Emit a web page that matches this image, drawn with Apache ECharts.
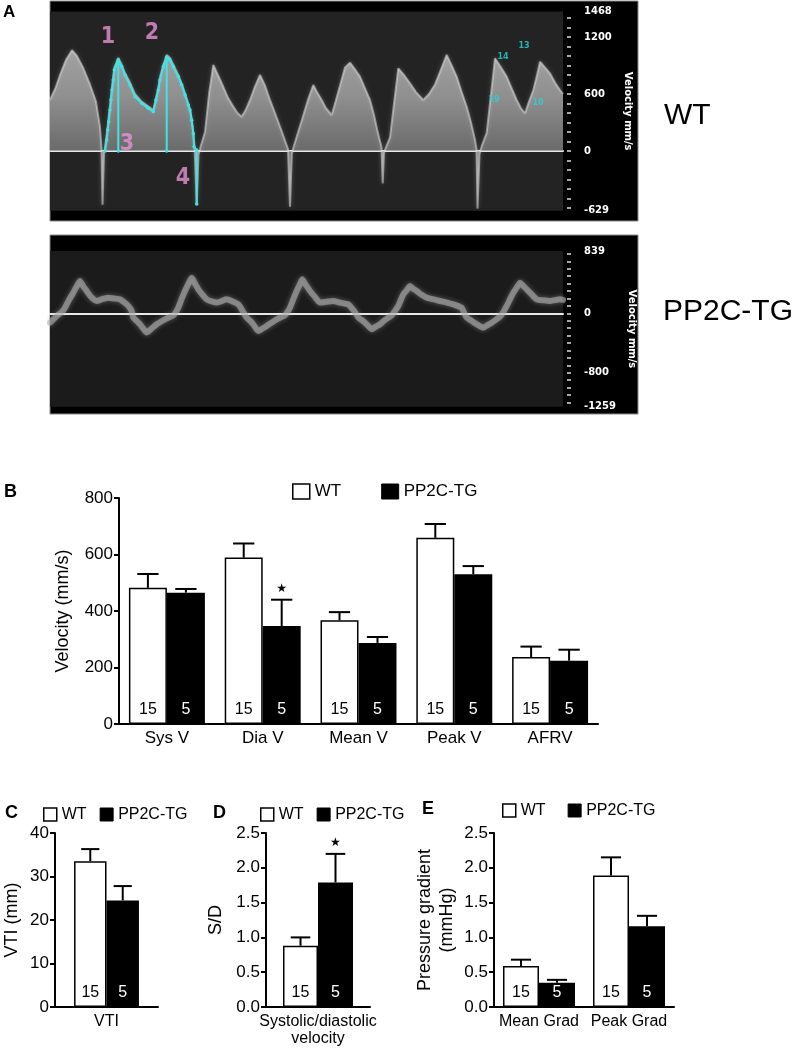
<!DOCTYPE html>
<html lang="en">
<head>
<meta charset="UTF-8">
<title>Doppler flow WT vs PP2C-TG</title>
<script src="https://cdn.jsdelivr.net/npm/echarts@6/dist/echarts.min.js"></script>
<style>
    html, body { margin: 0; padding: 0; background: #fff; }
    #main { width: 803px; height: 1048px; }
</style>
</head>
<body>
<div id="main"></div>
<script>
// ---------- panel A: doppler traces, t = position along the trace, v = velocity mm/s
var wtEnvelope = [
    [0, 540], [5, 650], [10, 800], [16, 960], [22, 1060], [27, 1000], [33, 880], [40, 700], [46, 520], [50, 250], [51.5, 20],
    [52.5, -565], [54, -30],
    [55, 40], [56.7, 180], [58.7, 360], [60, 480], [62, 680], [64.3, 880], [68.3, 980], [71.7, 910], [75, 820], [80, 720],
    [85, 600], [91.7, 520], [98.3, 470], [103.3, 430], [106, 560], [108.3, 670], [110, 780], [113.3, 910], [116.7, 1010],
    [120, 980], [123.3, 910], [128.3, 800], [131.7, 710], [135, 610], [138.3, 500], [140, 440], [141.7, 340], [143.3, 200], [144.5, 60],
    [146.7, -560], [148.5, -40],
    [151, 60], [155, 200], [159, 600], [163.3, 905], [168, 800], [173.3, 676], [178, 560], [183.3, 467], [187.5, 400], [191.7, 361],
    [196, 440], [200, 537], [205, 680], [210, 800], [215, 690], [220, 537], [225, 400], [230, 256], [235, 110], [238, 20],
    [240, -586], [241.8, -30],
    [243.5, 40], [246.7, 150], [252, 330], [258, 540], [263.3, 695], [267, 620], [271.7, 537], [276, 450], [281.7, 379], [285, 500],
    [290, 690], [295, 880], [300, 930], [305, 860], [310, 783], [315, 660], [320, 537], [324, 380], [328, 186], [331.5, 40],
    [332.7, -340], [334, -20],
    [336, 40], [340, 140], [344, 500], [348.3, 870], [354, 800], [360, 713], [366, 620], [373.3, 537], [379, 600], [385, 700],
    [391, 860], [396.7, 1011], [401.7, 900], [406.7, 783], [411.7, 620], [416.7, 467], [421, 300], [425, 116], [426.5, 20],
    [427.5, -604], [429.5, -30],
    [432, 60], [436.7, 190], [441, 600], [445, 976], [451, 880], [456.7, 783], [461.7, 660], [466.7, 537], [471, 450], [475, 397],
    [479, 520], [483.3, 642], [487, 800], [490, 940], [495, 880], [500, 818], [505, 720], [510, 642], [513, 600]
];
var wtTrace = [
    [55, 0], [56.7, 116], [57.7, 221], [58.7, 309], [60, 432], [61, 537], [62, 642], [63.3, 748], [64.3, 853], [68.3, 958],
    [71.7, 888], [75, 800], [80, 695], [85, 572], [91.7, 502], [98.3, 449], [103.3, 414], [106, 537], [108.3, 642], [110, 748],
    [113.3, 888], [116.7, 986], [120, 958], [123.3, 888], [128.3, 783], [131.7, 695], [135, 590], [138.3, 484], [140, 432],
    [141.7, 325], [143.3, 183], [144, 46], [146.7, 10], [146.7, -558]
];
var wtTraceDrops = [[68.3, 958], [116.7, 986]];
var wtMarks = [[58, 1200, '1'], [102, 1242, '2'], [77, 74, '3'], [133, -284, '4']];
var wtTags = [[474, 1105, '13'], [453, 990, '14'], [444, 537, '19'], [488, 505, '10']];
var wtTickLabels = [-629, 0, 600, 1200, 1468];

var tgBand = [
    [0, -126], [5, -58], [8.3, -18], [12, 20], [15, 76], [19, 180], [23.3, 278], [27, 370], [30, 435], [33, 370], [36.7, 300],
    [41, 220], [46.7, 166], [52, 190], [58.3, 211], [64, 200], [70, 188], [74, 150], [78.3, 99], [81.7, 31],
    [83.3, -58], [86.5, -100], [90, -148], [93.5, -210], [96.7, -260], [101.7, -205], [106.7, -148], [112.5, -100], [118.3, -58], [123.3, -27],
    [126, 20], [128.3, 76], [131.5, 190], [135, 300], [138.5, 400], [141.7, 480], [145, 400], [148.3, 323], [152.5, 250], [156.7, 188],
    [161.7, 160], [166.7, 144], [171.7, 165], [176.7, 188], [182.5, 160], [188.3, 121], [191.7, 54], [194, 0],
    [196.7, -58], [200, -100], [203.3, -148], [208.3, -238], [212.5, -205], [216.7, -170], [221.7, -125], [226.7, -81], [235, -27],
    [237.5, 20], [240, 76], [243.3, 190], [246.7, 300], [249.5, 380], [252.3, 458], [256, 380], [260, 300], [265, 220], [270, 144],
    [276.5, 155], [283.3, 166], [290, 144], [298.3, 121], [300, 99], [303.3, 45], [305.8, 0],
    [308.3, -58], [311.7, -90], [315, -126], [318.3, -170], [321.7, -215], [325.8, -180], [330, -148], [334, -100], [338.3, -58], [341.7, -27],
    [345, 30], [348.3, 99], [353.3, 256], [356.7, 310], [360, 368], [363.3, 330], [366.7, 300], [371.7, 250], [376.7, 211], [383, 190],
    [390, 166], [396.7, 145], [403.3, 121], [411.7, 76], [414, 10],
    [416.7, -58], [421, -95], [425, -135], [429, -165], [433.3, -193], [437.5, -160], [441.7, -126], [446, -85], [450, -45],
    [453.5, 20], [456.7, 99], [460, 190], [463.3, 278], [466.7, 345], [470, 413], [473.3, 370], [476.7, 323], [481.7, 255], [486.7, 188],
    [493.3, 175], [500, 166], [505, 178], [510, 188], [513, 180]
];
var tgTickLabels = [-1259, -800, 0, 839];

// ---------- panel B: velocities (mean, SEM)
var bCats = ['Sys V', 'Dia V', 'Mean V', 'Peak V', 'AFRV'];
var bWT = [482, 589, 367, 659, 237];
var bWTsem = [49, 50, 29, 49, 37];
var bTG = [465, 347, 287, 530, 224];
var bTGsem = [13, 93, 21, 29, 39];
var bStarTG = [0, 1, 0, 0, 0];

// ---------- panel C / D / E
var cCats = ['VTI'];
var cWT = [33.5], cWTsem = [2.8];
var cTG = [24.5], cTGsem = [3.3];

var dCats = ['Systolic/diastolic\nvelocity'];
var dWT = [0.88], dWTsem = [0.12];
var dTG = [1.79], dTGsem = [0.41];
var dStarTG = [1];

var eCats = ['Mean Grad', 'Peak Grad'];
var eWT = [0.59, 1.89], eWTsem = [0.09, 0.26];
var eTG = [0.35, 1.16], eTGsem = [0.04, 0.15];

var nWT = 15, nTG = 5;

var FONT = "'Liberation Sans', Arial, Helvetica, sans-serif";
var chart = echarts.init(document.getElementById('main'), null, { renderer: 'canvas' });

function errorBars(gap, side) {
    return function (params, api) {
        var i = api.value(0), m = api.value(1), s = api.value(2);
        var base = api.coord([i, m]);
        var tip = api.coord([i, m + s]);
        var band = api.size([1, 0])[0];
        var bw = band * (1 - gap) / 2;
        var cx = base[0] + side * bw / 2;
        var cap = bw * 0.28;
        var kids = [
            { type: 'line', shape: { x1: cx, y1: base[1], x2: cx, y2: tip[1] }, style: { stroke: '#000', lineWidth: 2 } },
            { type: 'line', shape: { x1: cx - cap, y1: tip[1], x2: cx + cap, y2: tip[1] }, style: { stroke: '#000', lineWidth: 2 } }
        ];
        if (api.value(3)) {
            kids.push({ type: 'text', style: { text: '\u2605', x: cx, y: tip[1] - 11, align: 'center', verticalAlign: 'middle',
                fontSize: 12, fill: '#000', fontFamily: 'DejaVu Sans' } });
        }
        return { type: 'group', children: kids };
    };
}

// bars + error bars for one panel
function barPanel(ax, wt, wtSem, tg, tgSem, starTG, gap, labelSize) {
    var stars = starTG || wt.map(function () { return 0; });
    var gapStr = Math.round(gap * 1000) / 10 + '%';
    return [
        {
            type: 'bar', name: 'WT', xAxisIndex: ax, yAxisIndex: ax, data: wt,
            barGap: '0%', barCategoryGap: gapStr,
            itemStyle: { color: '#fff', borderColor: '#000', borderWidth: 1.5 },
            label: { show: true, position: 'insideBottom', distance: 6, formatter: String(nWT), color: '#000', fontSize: labelSize, fontFamily: FONT }
        },
        {
            type: 'bar', name: 'PP2C-TG', xAxisIndex: ax, yAxisIndex: ax, data: tg,
            barGap: '0%', barCategoryGap: gapStr,
            itemStyle: { color: '#000', borderColor: '#000', borderWidth: 1.5 },
            label: { show: true, position: 'insideBottom', distance: 6, formatter: String(nTG), color: '#fff', fontSize: labelSize, fontFamily: FONT }
        },
        {
            type: 'custom', name: 'errWT' + ax, xAxisIndex: ax, yAxisIndex: ax, z: 3,
            renderItem: errorBars(gap, -1),
            data: wt.map(function (v, i) { return [i, v, wtSem[i], 0]; })
        },
        {
            type: 'custom', name: 'errTG' + ax, xAxisIndex: ax, yAxisIndex: ax, z: 3,
            renderItem: errorBars(gap, 1),
            data: tg.map(function (v, i) { return [i, v, tgSem[i], stars[i]]; })
        }
    ];
}

function doppXAxis(grid, show) {
    return {
        type: 'value', gridIndex: grid, min: 0, max: 513, show: show,
        axisLine: { show: true, onZero: true, lineStyle: { color: '#e8e8e8', width: 2 } },
        axisTick: { show: false }, axisLabel: { show: false }, splitLine: { show: false }
    };
}

// velocity scale with the labelled values of the scanner
function doppYAxis(grid, min, max, labels) {
    return {
        type: 'value', gridIndex: grid, min: min, max: max, position: 'right', offset: 5,
        axisLine: { show: false },
        axisTick: { show: false },
        axisLabel: { show: true, customValues: labels, margin: 16, color: '#fff', fontSize: 10, fontWeight: 'bold', fontFamily: 'DejaVu Sans',
            formatter: function (v) { return String(v); } },
        splitLine: { show: false },
        name: 'Velocity mm/s', nameLocation: 'middle', nameRotate: -90, nameGap: 52,
        nameTextStyle: { color: '#fff', fontSize: 10, fontWeight: 'bold', fontFamily: 'DejaVu Sans' }
    };
}

// 100 mm/s tick ruler beside the scanner scale (its grid is 1px wide, right of the trace)
function tickYAxis(grid, min, max) {
    return {
        type: 'value', gridIndex: grid, min: min, max: max, interval: 100, position: 'right',
        axisLine: { show: false },
        axisTick: { show: true, inside: false, length: 4, lineStyle: { color: '#ddd', width: 1.5 } },
        axisLabel: { show: false }, splitLine: { show: false }
    };
}

function catXAxis(grid, cats, size) {
    return {
        type: 'category', gridIndex: grid, data: cats,
        axisLine: { show: true, lineStyle: { color: '#000', width: 2 } },
        axisTick: { show: false },
        axisLabel: { interval: 0, margin: 6, color: '#000', fontSize: size, lineHeight: 17, fontFamily: FONT }
    };
}

function valYAxis(grid, max, interval, name, gap, digits) {
    return {
        type: 'value', gridIndex: grid, min: 0, max: max, interval: interval,
        axisLine: { show: true, lineStyle: { color: '#000', width: 2 } },
        axisTick: { show: true, length: 5, lineStyle: { color: '#000', width: 2 } },
        axisLabel: { margin: 6, color: '#000', fontSize: 17, fontFamily: FONT,
            formatter: function (v) { return digits ? v.toFixed(digits) : String(v); } },
        splitLine: { show: false },
        name: name, nameLocation: 'middle', nameGap: gap,
        nameTextStyle: { color: '#000', fontSize: 18, lineHeight: 22, fontFamily: FONT }
    };
}

function legendAt(left, top, box, gap, size) {
    return {
        left: left, top: top, itemWidth: box[0], itemHeight: box[1], itemGap: gap,
        selectedMode: false, padding: 0,
        textStyle: { color: '#000', fontSize: size, fontFamily: FONT },
        data: [
            { name: 'WT', icon: 'rect', itemStyle: { color: '#fff', borderColor: '#000', borderWidth: 1.5 } },
            { name: 'PP2C-TG', icon: 'rect', itemStyle: { color: '#000', borderColor: '#000', borderWidth: 1 } }
        ]
    };
}

function panelText(text, x, y, size, weight) {
    return { type: 'text', left: x, top: y, style: { text: text, fontSize: size, fontWeight: weight || 'bold', fill: '#000', fontFamily: FONT } };
}

var series = [
    {
        type: 'line', name: 'wtEnvelope', xAxisIndex: 0, yAxisIndex: 0, data: wtEnvelope, showSymbol: false, z: 2,
        lineStyle: { width: 2, color: 'rgba(220,220,220,0.55)', shadowBlur: 4, shadowColor: 'rgba(200,200,200,0.6)' },
        areaStyle: {
            origin: 0,
            color: new echarts.graphic.LinearGradient(0, 0, 0, 1, [
                { offset: 0, color: '#d8d8d8' },
                { offset: 0.3, color: '#bdbdbd' },
                { offset: 0.6, color: '#8e8e8e' },
                { offset: 0.64, color: '#8a8a8a' },
                { offset: 1, color: '#9a9a9a' }
            ])
        }
    },
    {
        type: 'line', name: 'tgBand', xAxisIndex: 1, yAxisIndex: 1, data: tgBand, showSymbol: false, smooth: 0.2, z: 2,
        lineStyle: { width: 6, color: 'rgba(175,175,175,0.6)', cap: 'round', join: 'round',
            shadowBlur: 5, shadowColor: 'rgba(190,190,190,0.7)' }
    },
    {
        type: 'line', name: 'wtTrace', xAxisIndex: 0, yAxisIndex: 0, data: wtTrace, z: 5,
        symbol: 'circle', symbolSize: 3.5, showAllSymbol: true,
        itemStyle: { color: '#3fe4e6' }, lineStyle: { width: 2, color: '#3fe4e6' }
    },
    {
        type: 'scatter', name: 'wtMarks', xAxisIndex: 0, yAxisIndex: 0, data: wtMarks, symbolSize: 0, z: 6,
        label: { show: true, position: 'inside', formatter: function (p) { return p.data[2]; },
            color: '#e592d5', fontSize: 23, fontWeight: 'bold', fontFamily: "'Liberation Sans Narrow', 'DejaVu Sans Condensed', sans-serif" }
    },
    {
        type: 'scatter', name: 'wtTags', xAxisIndex: 0, yAxisIndex: 0, data: wtTags, symbolSize: 0, z: 6,
        label: { show: true, position: 'inside', formatter: function (p) { return p.data[2]; },
            color: '#27d4da', fontSize: 8, fontWeight: 'bold', fontFamily: 'DejaVu Sans' }
    }
];
wtTraceDrops.forEach(function (d, k) {
    series.push({
        type: 'line', name: 'wtDrop' + k, xAxisIndex: 0, yAxisIndex: 0, z: 5,
        data: [[d[0], 0], d], symbol: 'circle', symbolSize: 3.5,
        itemStyle: { color: '#3fe4e6' }, lineStyle: { width: 2, color: '#3fe4e6' }
    });
});
series = series
    .concat(barPanel(2, bWT, bWTsem, bTG, bTGsem, bStarTG, 0.207, 16))
    .concat(barPanel(3, cWT, cWTsem, cTG, cTGsem, null, 0.37, 16))
    .concat(barPanel(4, dWT, dWTsem, dTG, dTGsem, dStarTG, 0.327, 16))
    .concat(barPanel(5, eWT, eWTsem, eTG, eTGsem, null, 0.2, 16));

// ruler grids: same px per mm/s as the two scanner grids, spanning the 100-step ticks
var wtPx = 199.3 / (1468 + 629), wtZero = 11.5 + 1468 * wtPx;
var tgPx = 155.8 / (839 + 1259), tgZero = 251 + 839 * tgPx;

var option = {
    animation: false,
    backgroundColor: '#fff',
    textStyle: { fontFamily: FONT },
    grid: [
        { left: 50, top: 11.5, width: 513, height: 199.3, show: true, backgroundColor: '#232323', borderWidth: 0 },
        { left: 50, top: 251, width: 513, height: 155.8, show: true, backgroundColor: '#1b1b1b', borderWidth: 0 },
        { left: 119, top: 498, width: 479, height: 226 },
        { left: 50, top: 833, width: 108, height: 174 },
        { left: 266, top: 833, width: 104, height: 174 },
        { left: 494, top: 833, width: 180, height: 174 },
        { left: 567, top: wtZero - 1400 * wtPx, width: 1, height: 2000 * wtPx },
        { left: 567, top: tgZero - 800 * tgPx, width: 1, height: 2000 * tgPx }
    ],
    xAxis: [
        doppXAxis(0, true), doppXAxis(1, true),
        catXAxis(2, bCats, 17), catXAxis(3, cCats, 16), catXAxis(4, dCats, 16), catXAxis(5, eCats, 16),
        doppXAxis(6, false), doppXAxis(7, false)
    ],
    yAxis: [
        doppYAxis(0, -629, 1468, wtTickLabels),
        doppYAxis(1, -1259, 839, tgTickLabels),
        valYAxis(2, 800, 200, 'Velocity (mm/s)', 44, 0),
        valYAxis(3, 40, 10, 'VTI (mm)', 32, 0),
        valYAxis(4, 2.5, 0.5, 'S/D', 39, 1),
        valYAxis(5, 2.5, 0.5, 'Pressure gradient\n(mmHg)', 36, 1),
        tickYAxis(6, -600, 1400),
        tickYAxis(7, -1200, 800)
    ],
    legend: [
        legendAt(292, 483, [17, 15], 40, 17),
        legendAt(43, 806.5, [13, 13], 13, 16),
        legendAt(260, 806.5, [13, 13], 13, 16),
        legendAt(502, 802.5, [13, 13], 22, 16)
    ],
    graphic: [
        { type: 'rect', z: -10, shape: { x: 50, y: 1, width: 588, height: 220 }, style: { fill: '#000', stroke: '#8a8a8a', lineWidth: 1 } },
        { type: 'rect', z: -10, shape: { x: 50, y: 235, width: 588, height: 179 }, style: { fill: '#000', stroke: '#8a8a8a', lineWidth: 1 } },
        panelText('A', 3, 4, 17),
        panelText('B', 4, 483, 18),
        panelText('C', 5, 804, 18),
        panelText('D', 213, 804, 18),
        panelText('E', 422, 800, 18),
        panelText('WT', 664, 101, 30, 'normal'),
        panelText('PP2C-TG', 663, 297, 30, 'normal')
    ],
    series: series
};
chart.setOption(option);
</script>
</body>
</html>
